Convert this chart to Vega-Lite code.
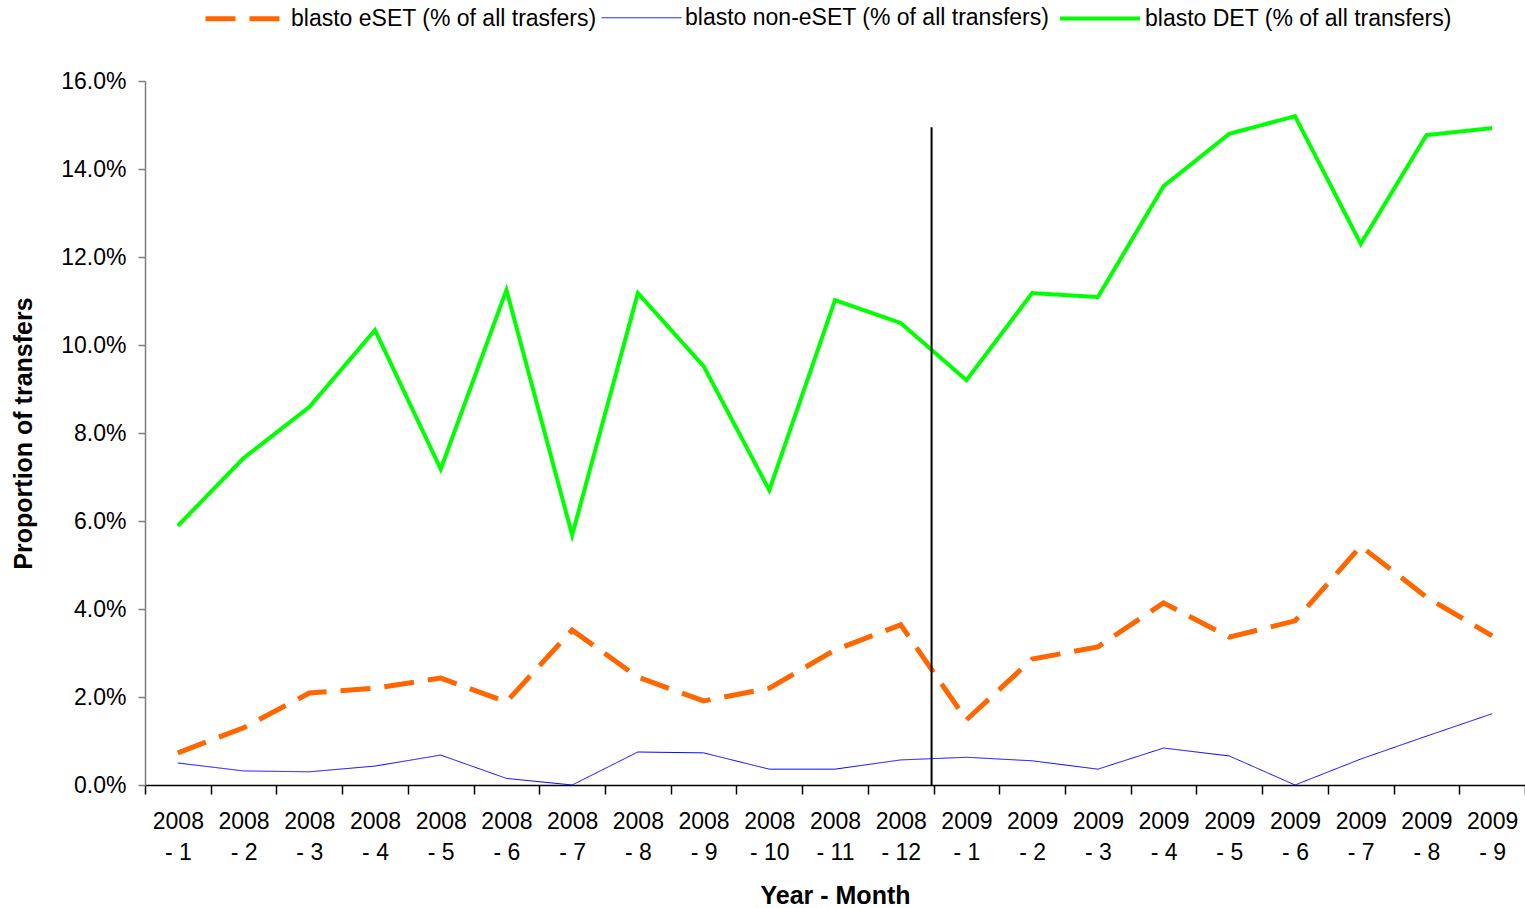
{
  "$schema": "https://vega.github.io/schema/vega-lite/v6.json",
  "width": 1380,
  "height": 704,
  "autosize": "none",
  "padding": {"left": 145, "top": 81, "right": 0, "bottom": 123},
  "background": "white",
  "config": {
    "view": {"stroke": null},
    "font": "Liberation Sans",
    "axis": {"labelFont": "Liberation Sans", "titleFont": "Liberation Sans", "labelColor": "black", "titleColor": "black", "grid": false}
  },
  "datasets": {
    "series": [
      {"month": "2008|- 1", "series": "blasto eSET (% of all trasfers)", "value": 0.0073},
      {"month": "2008|- 2", "series": "blasto eSET (% of all trasfers)", "value": 0.0130},
      {"month": "2008|- 3", "series": "blasto eSET (% of all trasfers)", "value": 0.0209},
      {"month": "2008|- 4", "series": "blasto eSET (% of all trasfers)", "value": 0.0220},
      {"month": "2008|- 5", "series": "blasto eSET (% of all trasfers)", "value": 0.0243},
      {"month": "2008|- 6", "series": "blasto eSET (% of all trasfers)", "value": 0.0189},
      {"month": "2008|- 7", "series": "blasto eSET (% of all trasfers)", "value": 0.0352},
      {"month": "2008|- 8", "series": "blasto eSET (% of all trasfers)", "value": 0.0245},
      {"month": "2008|- 9", "series": "blasto eSET (% of all trasfers)", "value": 0.0191},
      {"month": "2008|- 10", "series": "blasto eSET (% of all trasfers)", "value": 0.0220},
      {"month": "2008|- 11", "series": "blasto eSET (% of all trasfers)", "value": 0.0307},
      {"month": "2008|- 12", "series": "blasto eSET (% of all trasfers)", "value": 0.0364},
      {"month": "2009|- 1", "series": "blasto eSET (% of all trasfers)", "value": 0.0148},
      {"month": "2009|- 2", "series": "blasto eSET (% of all trasfers)", "value": 0.0286},
      {"month": "2009|- 3", "series": "blasto eSET (% of all trasfers)", "value": 0.0314},
      {"month": "2009|- 4", "series": "blasto eSET (% of all trasfers)", "value": 0.0414},
      {"month": "2009|- 5", "series": "blasto eSET (% of all trasfers)", "value": 0.0336},
      {"month": "2009|- 6", "series": "blasto eSET (% of all trasfers)", "value": 0.0373},
      {"month": "2009|- 7", "series": "blasto eSET (% of all trasfers)", "value": 0.0543},
      {"month": "2009|- 8", "series": "blasto eSET (% of all trasfers)", "value": 0.0427},
      {"month": "2009|- 9", "series": "blasto eSET (% of all trasfers)", "value": 0.0339},
      {"month": "2008|- 1", "series": "blasto non-eSET (% of all transfers)", "value": 0.0050},
      {"month": "2008|- 2", "series": "blasto non-eSET (% of all transfers)", "value": 0.0032},
      {"month": "2008|- 3", "series": "blasto non-eSET (% of all transfers)", "value": 0.0030},
      {"month": "2008|- 4", "series": "blasto non-eSET (% of all transfers)", "value": 0.0043},
      {"month": "2008|- 5", "series": "blasto non-eSET (% of all transfers)", "value": 0.0068},
      {"month": "2008|- 6", "series": "blasto non-eSET (% of all transfers)", "value": 0.0015},
      {"month": "2008|- 7", "series": "blasto non-eSET (% of all transfers)", "value": 0.0000},
      {"month": "2008|- 8", "series": "blasto non-eSET (% of all transfers)", "value": 0.0075},
      {"month": "2008|- 9", "series": "blasto non-eSET (% of all transfers)", "value": 0.0073},
      {"month": "2008|- 10", "series": "blasto non-eSET (% of all transfers)", "value": 0.0036},
      {"month": "2008|- 11", "series": "blasto non-eSET (% of all transfers)", "value": 0.0036},
      {"month": "2008|- 12", "series": "blasto non-eSET (% of all transfers)", "value": 0.0057},
      {"month": "2009|- 1", "series": "blasto non-eSET (% of all transfers)", "value": 0.0063},
      {"month": "2009|- 2", "series": "blasto non-eSET (% of all transfers)", "value": 0.0055},
      {"month": "2009|- 3", "series": "blasto non-eSET (% of all transfers)", "value": 0.0036},
      {"month": "2009|- 4", "series": "blasto non-eSET (% of all transfers)", "value": 0.0084},
      {"month": "2009|- 5", "series": "blasto non-eSET (% of all transfers)", "value": 0.0066},
      {"month": "2009|- 6", "series": "blasto non-eSET (% of all transfers)", "value": 0.0000},
      {"month": "2009|- 7", "series": "blasto non-eSET (% of all transfers)", "value": 0.0059},
      {"month": "2009|- 8", "series": "blasto non-eSET (% of all transfers)", "value": 0.0111},
      {"month": "2009|- 9", "series": "blasto non-eSET (% of all transfers)", "value": 0.0162},
      {"month": "2008|- 1", "series": "blasto DET (% of all transfers)", "value": 0.0589},
      {"month": "2008|- 2", "series": "blasto DET (% of all transfers)", "value": 0.0743},
      {"month": "2008|- 3", "series": "blasto DET (% of all transfers)", "value": 0.0859},
      {"month": "2008|- 4", "series": "blasto DET (% of all transfers)", "value": 0.1034},
      {"month": "2008|- 5", "series": "blasto DET (% of all transfers)", "value": 0.0718},
      {"month": "2008|- 6", "series": "blasto DET (% of all transfers)", "value": 0.1125},
      {"month": "2008|- 7", "series": "blasto DET (% of all transfers)", "value": 0.0568},
      {"month": "2008|- 8", "series": "blasto DET (% of all transfers)", "value": 0.1118},
      {"month": "2008|- 9", "series": "blasto DET (% of all transfers)", "value": 0.0952},
      {"month": "2008|- 10", "series": "blasto DET (% of all transfers)", "value": 0.0670},
      {"month": "2008|- 11", "series": "blasto DET (% of all transfers)", "value": 0.1102},
      {"month": "2008|- 12", "series": "blasto DET (% of all transfers)", "value": 0.1050},
      {"month": "2009|- 1", "series": "blasto DET (% of all transfers)", "value": 0.0920},
      {"month": "2009|- 2", "series": "blasto DET (% of all transfers)", "value": 0.1118},
      {"month": "2009|- 3", "series": "blasto DET (% of all transfers)", "value": 0.1109},
      {"month": "2009|- 4", "series": "blasto DET (% of all transfers)", "value": 0.1361},
      {"month": "2009|- 5", "series": "blasto DET (% of all transfers)", "value": 0.1480},
      {"month": "2009|- 6", "series": "blasto DET (% of all transfers)", "value": 0.1520},
      {"month": "2009|- 7", "series": "blasto DET (% of all transfers)", "value": 0.1230},
      {"month": "2009|- 8", "series": "blasto DET (% of all transfers)", "value": 0.1477},
      {"month": "2009|- 9", "series": "blasto DET (% of all transfers)", "value": 0.1493}
    ],
    "marker": [
      {"month": "2009|- 1", "top": 0.1495, "bottom": 0}
    ]
  },
  "layer": [
    {
      "data": {"name": "series"},
      "mark": {"type": "line", "strokeCap": "butt", "strokeJoin": "miter"},
      "encoding": {
        "x": {
          "field": "month", "type": "nominal",
          "scale": {
            "domain": ["2008|- 1", "2008|- 2", "2008|- 3", "2008|- 4", "2008|- 5", "2008|- 6", "2008|- 7", "2008|- 8", "2008|- 9", "2008|- 10", "2008|- 11", "2008|- 12", "2009|- 1", "2009|- 2", "2009|- 3", "2009|- 4", "2009|- 5", "2009|- 6", "2009|- 7", "2009|- 8", "2009|- 9"],
            "paddingInner": 0, "paddingOuter": 0
          },
          "axis": {
            "title": "Year - Month",
            "titleFontSize": 25, "titleFontWeight": "bold", "titlePadding": 19,
            "labelFontSize": 23, "labelAngle": 0, "labelPadding": 16,
            "labelExpr": "split(datum.label, '|')", "labelLineHeight": 31,
            "labelBaseline": "top",
            "tickBand": "extent", "tickSize": 9, "tickColor": "black", "tickWidth": 1.5,
            "domainColor": "black", "domainWidth": 1.5
          }
        },
        "y": {
          "field": "value", "type": "quantitative",
          "scale": {"domain": [0, 0.16], "nice": false},
          "axis": {
            "title": "Proportion of transfers",
            "titleFontSize": 25, "titleFontWeight": "bold", "titlePadding": 24,
            "labelFontSize": 23, "labelPadding": 12, "format": ".1%",
            "values": [0, 0.02, 0.04, 0.06, 0.08, 0.1, 0.12, 0.14, 0.16],
            "tickSize": 7, "tickColor": "#808080", "tickWidth": 1.5,
            "domainColor": "#808080", "domainWidth": 1.5
          }
        },
        "color": {
          "field": "series", "type": "nominal",
          "scale": {
            "domain": ["blasto eSET (% of all trasfers)", "blasto non-eSET (% of all transfers)", "blasto DET (% of all transfers)"],
            "range": ["#FF6600", "#0000FF", "#00FF00"]
          },
          "legend": {
            "title": null, "orient": "none", "direction": "horizontal",
            "legendX": 58, "legendY": -105,
            "labelFontSize": 23, "labelFont": "Liberation Sans", "labelColor": "black",
            "symbolType": "stroke", "symbolSize": 6400, "labelOffset": 3, "columnPadding": 2,
            "labelLimit": 500
          }
        },
        "strokeDash": {
          "field": "series", "type": "nominal",
          "scale": {
            "type": "ordinal",
            "domain": ["blasto eSET (% of all trasfers)", "blasto non-eSET (% of all transfers)", "blasto DET (% of all transfers)"],
            "range": [[30, 14], [1, 0], [1, 0]]
          },
          "legend": null
        },
        "strokeWidth": {
          "field": "series", "type": "nominal",
          "scale": {
            "type": "ordinal",
            "domain": ["blasto eSET (% of all trasfers)", "blasto non-eSET (% of all transfers)", "blasto DET (% of all transfers)"],
            "range": [5, 1, 4]
          },
          "legend": null
        }
      }
    },
    {
      "data": {"name": "marker"},
      "mark": {"type": "rule", "color": "black", "strokeWidth": 2, "xOffset": -2},
      "encoding": {
        "x": {"field": "month", "type": "nominal", "bandPosition": 0},
        "y": {"field": "bottom", "type": "quantitative"},
        "y2": {"field": "top"}
      }
    }
  ]
}
